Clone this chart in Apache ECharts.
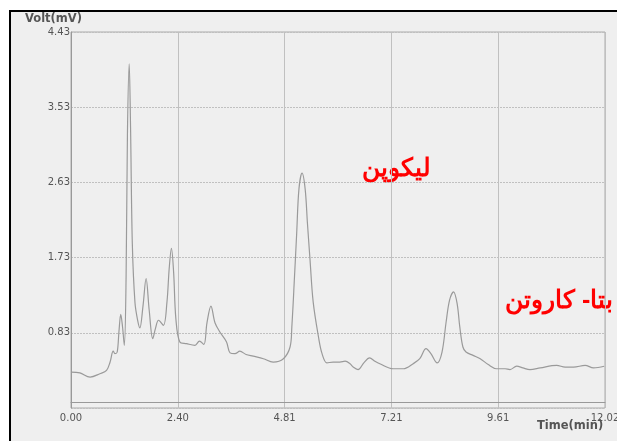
<!DOCTYPE html>
<html>
<head>
<meta charset="utf-8">
<script src="https://cdn.jsdelivr.net/npm/echarts@6/dist/echarts.min.js"></script>
<style>html,body{margin:0;padding:0;background:#fff}#c{width:617px;height:441px}</style>
</head>
<body>
<div id="c"></div>
<script>
const timeMin = [0.00,0.20,0.43,0.65,0.80,0.88,0.95,0.99,1.04,1.08,1.12,1.16,1.20,1.24,1.27,1.31,1.34,1.38,1.44,1.50,1.55,1.62,1.69,1.76,1.84,1.90,1.97,2.08,2.16,2.21,2.26,2.31,2.36,2.45,2.60,2.79,2.89,2.99,3.06,3.15,3.24,3.35,3.50,3.58,3.69,3.80,3.94,4.10,4.33,4.55,4.78,4.93,4.97,5.03,5.08,5.13,5.20,5.27,5.32,5.38,5.45,5.57,5.65,5.76,5.90,6.05,6.17,6.28,6.35,6.46,6.59,6.72,6.84,6.95,7.25,7.48,7.70,7.85,7.99,8.10,8.24,8.35,8.44,8.52,8.61,8.69,8.75,8.82,8.89,9.05,9.21,9.39,9.58,9.77,9.88,10.03,10.17,10.33,10.56,10.93,11.12,11.31,11.57,11.76,12.00];
const voltMv = [0.36,0.35,0.30,0.34,0.38,0.48,0.61,0.58,0.60,0.85,1.05,0.90,0.68,1.50,3.20,4.05,3.30,1.90,1.19,0.98,0.89,1.15,1.48,1.10,0.76,0.88,0.98,0.92,1.20,1.60,1.84,1.55,1.00,0.72,0.70,0.68,0.73,0.69,0.95,1.15,0.95,0.84,0.72,0.59,0.58,0.61,0.57,0.55,0.52,0.48,0.52,0.66,0.90,1.50,2.03,2.55,2.74,2.55,2.15,1.70,1.20,0.78,0.58,0.47,0.48,0.48,0.49,0.46,0.42,0.39,0.47,0.53,0.49,0.46,0.40,0.40,0.46,0.52,0.64,0.58,0.47,0.60,0.95,1.22,1.32,1.18,0.90,0.66,0.60,0.56,0.52,0.45,0.40,0.40,0.39,0.43,0.41,0.39,0.41,0.44,0.42,0.42,0.44,0.41,0.43];
const xTickLabels = ['0.00','2.40','4.81','7.21','9.61','12.02'];
const yTickLabels = ['', '0.83','1.73','2.63','3.53','4.43'];
const peakLabels = ['ليكوپن','بتا- کاروتن'];

const chart = echarts.init(document.getElementById('c'));
const data = timeMin.map((t,i)=>[t, voltMv[i]]);
const lbl = {color:'#555', fontSize:10, fontFamily:'DejaVu Sans, sans-serif'};
chart.setOption({
  animation:false,
  backgroundColor:'#fff',
  graphic:[
    {type:'rect', z:-10, shape:{x:10,y:11,width:620,height:440}, style:{fill:'#efefef', stroke:'#000', lineWidth:2}},
    {type:'text', left:25, top:13, style:{text:'Volt(mV)', fill:'#555', font:'bold 11.5px DejaVu Sans, sans-serif'}},
    {type:'text', left:537, top:420, style:{text:'Time(min)', fill:'#555', font:'bold 11.5px DejaVu Sans, sans-serif'}},
    {type:'text', left:362, top:157, style:{text:peakLabels[0], fill:'#ff0000', font:'bold 25px sans-serif'}},
    {type:'text', left:505, top:289, style:{text:peakLabels[1], fill:'#ff0000', font:'bold 25px sans-serif'}}
  ],
  grid:{left:71, right:12, top:32, bottom:33, outerBoundsMode:'none', show:true, borderColor:'#aaa', borderWidth:1, backgroundColor:'#efefef'},
  xAxis:{type:'value', min:0, max:12.018, interval:2.4036,
    axisLine:{show:true, lineStyle:{color:'#999'}}, axisTick:{show:false},
    axisLabel:{...lbl, margin:5, formatter:(v)=>{const i=Math.round(v/2.4036);return xTickLabels[i]||'';}},
    splitLine:{show:true, lineStyle:{color:'#c0c0c0', width:1}}},
  yAxis:{type:'value', min:-0.07, max:4.43, interval:0.9,
    axisLine:{show:true, lineStyle:{color:'#999'}}, axisTick:{show:false},
    axisLabel:{...lbl, margin:1, formatter:(v)=>{const i=Math.round((v+0.07)/0.9);return yTickLabels[i]||'';}},
    splitLine:{show:true, lineStyle:{color:'#c0c0c0', type:[2,1], width:1}}},
  series:[{type:'line', data:data, smooth:0.35, showSymbol:false, lineStyle:{color:'#9a9a9a', width:1.2}}]
});
</script>
</body>
</html>
